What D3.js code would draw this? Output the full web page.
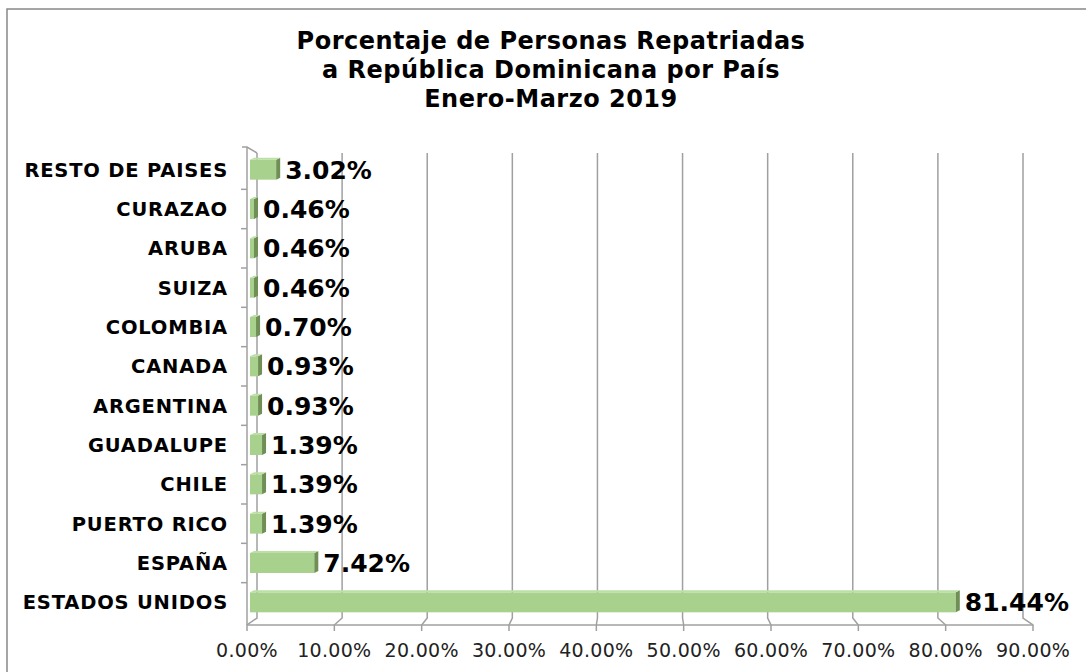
<!DOCTYPE html>
<html lang="es">
<head>
<meta charset="UTF-8">
<script src="https://cdn.jsdelivr.net/npm/d3@7"></script>
<title>Personas Repatriadas</title>
<style>
  body { margin: 0; background: #fff; }
  text { font-family: "DejaVu Sans", Verdana, sans-serif; }
</style>
</head>
<body>
<svg></svg>
<script>
  const paises = ['RESTO DE PAISES', 'CURAZAO', 'ARUBA', 'SUIZA', 'COLOMBIA', 'CANADA',
    'ARGENTINA', 'GUADALUPE', 'CHILE', 'PUERTO RICO', 'ESPAÑA', 'ESTADOS UNIDOS'];
  const porcentajes = [3.02, 0.46, 0.46, 0.46, 0.70, 0.93, 0.93, 1.39, 1.39, 1.39, 7.42, 81.44];
  const ticks = [0, 10, 20, 30, 40, 50, 60, 70, 80, 90];
  const titulo = ['Porcentaje de Personas Repatriadas', 'a República Dominicana por País', 'Enero-Marzo 2019'];

  const W = 1086, H = 672;
  const svg = d3.select('svg').attr('width', W).attr('height', H);

  // borde del gráfico
  svg.append('rect').attr('x', 7).attr('y', 9).attr('width', W).attr('height', H)
    .attr('fill', 'none').attr('stroke', '#888').attr('stroke-width', 1.5);

  // titulo
  svg.append('g').selectAll('text').data(titulo).enter().append('text')
    .attr('x', 551).attr('y', (d, i) => 49 + i * 29)
    .attr('text-anchor', 'middle')
    .style('font-size', '24px').style('font-weight', 'bold').style('letter-spacing', '0.5px')
    .text(d => d);

  // escalas: pared trasera y borde frontal (perspectiva)
  const xBack = d3.scaleLinear().domain([0, 90]).range([257, 1023]);
  const xFront = d3.scaleLinear().domain([0, 90]).range([247, 1033]);
  const xBar = d3.scaleLinear().domain([0, 90]).range([250, 1030]);
  const y = d3.scaleBand().domain(paises).range([150, 622]);

  const backTop = 153, backBottom = 618, frontTop = 147, frontBottom = 625;
  const grid = svg.append('g').attr('stroke', '#a0a0a0').attr('stroke-width', 1.5).attr('fill', 'none');

  grid.selectAll('path.gl').data(ticks).enter().append('path').attr('class', 'gl')
    .attr('d', d => `M${xBack(d)},${backTop} L${xBack(d)},${backBottom} L${xFront(d)},${frontBottom} L${xFront(d)},${frontBottom + 6}`);

  // borde izquierdo de la pared y diagonal superior
  grid.append('path')
    .attr('d', `M${xFront(0) - 5},${frontTop} L${xFront(0)},${frontTop} L${xBack(0)},${backTop}`);
  // eje vertical frontal
  grid.append('line').attr('x1', xFront(0)).attr('x2', xFront(0))
    .attr('y1', frontTop).attr('y2', frontBottom);
  // suelo frontal
  grid.append('line').attr('x1', xFront(0)).attr('x2', xFront(90))
    .attr('y1', frontBottom).attr('y2', frontBottom);
  // marcas del eje de categorías
  const bounds = paises.map(p => y(p)).concat([y.range()[1]]);
  grid.selectAll('line.tk').data(bounds.slice(1, -1)).enter().append('line').attr('class', 'tk')
    .attr('x1', xFront(0) - 6).attr('x2', xFront(0))
    .attr('y1', d => d).attr('y2', d => d);

  // barras 3D
  const barH = 20, depth = 4;
  const bars = svg.append('g').selectAll('g').data(paises).enter().append('g');
  bars.append('rect')
    .attr('x', xBar(0)).attr('y', p => y(p) + y.bandwidth() / 2 - barH / 2)
    .attr('width', (p, i) => xBar(porcentajes[i]) - xBar(0))
    .attr('height', barH).attr('fill', '#a9d18e');
  bars.append('path')
    .attr('d', (p, i) => {
      const x1 = xBar(porcentajes[i]), y0 = y(p) + y.bandwidth() / 2 - barH / 2;
      return `M${x1},${y0} L${x1 + depth},${y0 - 2} L${x1 + depth},${y0 + barH - 2} L${x1},${y0 + barH} Z`;
    })
    .attr('fill', '#6f8f55');
  bars.append('path')
    .attr('d', (p, i) => {
      const x1 = xBar(porcentajes[i]), y0 = y(p) + y.bandwidth() / 2 - barH / 2;
      return `M${xBar(0)},${y0} L${xBar(0) + depth},${y0 - 2} L${x1 + depth},${y0 - 2} L${x1},${y0} Z`;
    })
    .attr('fill', '#bddfa6');

  // etiquetas de datos
  bars.append('text')
    .attr('x', (p, i) => xBar(porcentajes[i]) + depth + 5)
    .attr('y', p => y(p) + y.bandwidth() / 2 + 9)
    .style('font-size', '25px').style('font-weight', 'bold')
    .text((p, i) => porcentajes[i].toFixed(2) + '%');

  // etiquetas de categorías
  svg.append('g').selectAll('text').data(paises).enter().append('text')
    .attr('x', 228).attr('y', p => y(p) + y.bandwidth() / 2 + 7)
    .attr('text-anchor', 'end')
    .style('font-size', '19.5px').style('font-weight', 'bold').style('letter-spacing', '0.8px')
    .text(p => p);

  // etiquetas del eje X
  svg.append('g').selectAll('text').data(ticks).enter().append('text')
    .attr('x', d => xFront(d)).attr('y', 657)
    .attr('text-anchor', 'middle')
    .style('font-size', '19px').style('letter-spacing', '0.3px').attr('fill', '#222')
    .text(d => d.toFixed(2) + '%');
</script>
</body>
</html>
